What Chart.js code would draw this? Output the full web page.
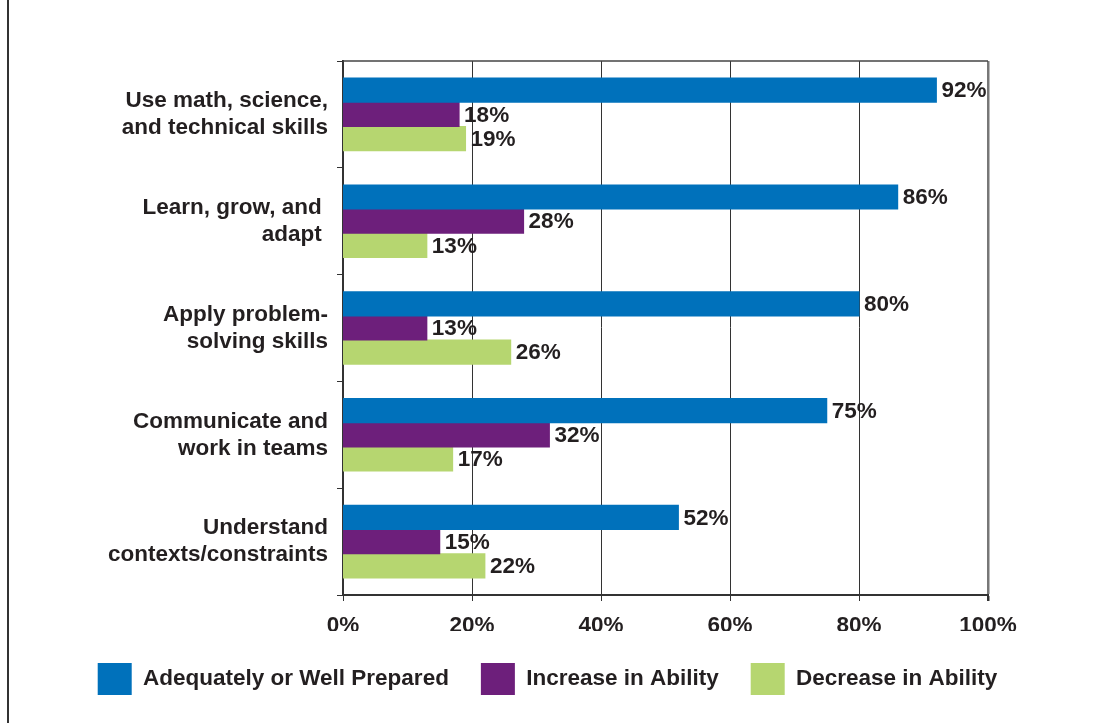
<!DOCTYPE html>
<html>
<head>
<meta charset="utf-8">
<script src="https://cdn.jsdelivr.net/npm/chart.js@4.4.1/dist/chart.umd.min.js"></script>
<style>
  html, body { margin: 0; padding: 0; background: #fff; }
  #wrap { position: relative; width: 1095px; height: 723px; }
  #frame { position: absolute; left: 7px; top: 0; width: 2px; height: 723px; background: #333; }
</style>
</head>
<body>
<div id="wrap">
  <div id="frame"></div>
  <canvas id="skillsChart" width="1095" height="723"></canvas>
</div>
<script>
const categories = [
  ['Use math, science,', 'and technical skills'],
  ['Learn, grow, and ', 'adapt '],
  ['Apply problem-', 'solving skills'],
  ['Communicate and', 'work in teams'],
  ['Understand', 'contexts/constraints']
];
const prepared = [92, 86, 80, 75, 52];
const increase = [18, 28, 13, 32, 15];
const decrease = [19, 13, 26, 17, 22];
const xTicks = [0, 20, 40, 60, 80, 100];

const textColor = '#231f20';
const fontFamily = "'Liberation Sans', Arial, sans-serif";

// value labels at the end of each bar
const valueLabels = {
  id: 'valueLabels',
  afterDatasetsDraw(chart) {
    const ctx = chart.ctx;
    ctx.save();
    ctx.font = 'bold 22.5px ' + fontFamily;
    ctx.fillStyle = textColor;
    ctx.textAlign = 'left';
    ctx.textBaseline = 'middle';
    chart.data.datasets.forEach((ds, i) => {
      chart.getDatasetMeta(i).data.forEach((bar, j) => {
        ctx.fillText(ds.data[j] + '%', bar.x + 5, bar.y + 1);
      });
    });
    ctx.restore();
  }
};

// top edge of the plot box
const topLine = {
  id: 'topLine',
  afterDraw(chart) {
    const a = chart.chartArea, ctx = chart.ctx;
    ctx.save();
    ctx.strokeStyle = '#444';
    ctx.lineWidth = 1.5;
    ctx.beginPath();
    ctx.moveTo(a.left, a.top);
    ctx.lineTo(a.right, a.top);
    ctx.stroke();
    ctx.restore();
  }
};

const ctx = document.getElementById('skillsChart').getContext('2d');
const skillsChart = new Chart(ctx, {
  type: 'bar',
  data: {
    labels: categories,
    datasets: [
      { label: 'Adequately or Well Prepared', data: prepared, backgroundColor: '#0071bb' },
      { label: 'Increase in Ability', data: increase, backgroundColor: '#6d1f7b' },
      { label: 'Decrease in Ability', data: decrease, backgroundColor: '#b6d670' }
    ]
  },
  options: {
    indexAxis: 'y',
    responsive: false,
    animation: false,
    barPercentage: 1,
    categoryPercentage: 0.68,
    inflateAmount: 0.5,
    layout: { padding: { top: 61, left: 50, right: 50, bottom: 18 } },
    plugins: {
      tooltip: { enabled: false },
      legend: {
        position: 'bottom',
        labels: {
          boxWidth: 34,
          boxHeight: 32,
          padding: 32,
          color: textColor,
          font: { family: fontFamily, size: 22.5, weight: 'bold' }
        }
      }
    },
    scales: {
      x: {
        min: 0,
        max: 100,
        afterBuildTicks: (scale) => { scale.ticks = xTicks.map(v => ({ value: v })); },
        afterFit: (scale) => { scale.height = 36; },
        ticks: {
          padding: 11,
          color: textColor,
          font: { family: fontFamily, size: 22.5, weight: 'bold' },
          callback: (v) => v + '%'
        },
        grid: {
          color: (c) => c.tick && c.tick.value === 100 ? '#777' : '#333',
          lineWidth: (c) => c.tick && c.tick.value === 100 ? 2.5 : 1,
          tickLength: 6,
          tickColor: '#333'
        },
        border: { color: '#333', width: 2 }
      },
      y: {
        afterFit: (scale) => { scale.width = 293; },
        ticks: {
          padding: 9,
          color: textColor,
          font: { family: fontFamily, size: 22.5, weight: 'bold', lineHeight: 1.2 }
        },
        grid: { drawOnChartArea: false, tickLength: 6, color: '#333' },
        border: { color: '#333', width: 2 }
      },
      // empty spacer on the right so the plot ends where the original does
      yRight: {
        type: 'category',
        position: 'right',
        afterFit: (scale) => { scale.width = 57; },
        ticks: { display: false },
        grid: { display: false },
        border: { display: false }
      }
    }
  },
  plugins: [valueLabels, topLine]
});
</script>
</body>
</html>
